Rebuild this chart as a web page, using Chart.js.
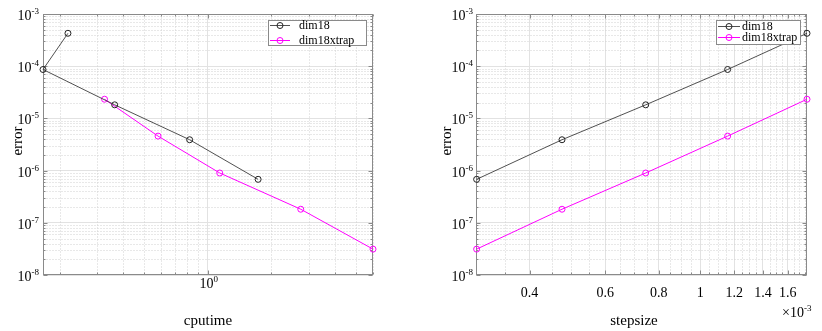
<!DOCTYPE html>
<html>
<head>
<meta charset="utf-8">
<script src="https://cdn.jsdelivr.net/npm/chart.js@4.4.0/dist/chart.umd.min.js"></script>
<style>
  html, body { margin: 0; padding: 0; background: #fff; }
  #wrap { position: relative; width: 822px; height: 331px; }
  .pane { position: absolute; top: 0; width: 411px; height: 331px; }
</style>
</head>
<body>
<div id="wrap">
  <div class="pane" style="left:0"><canvas id="cpuChart" width="411" height="331"></canvas></div>
  <div class="pane" style="left:411px"><canvas id="stepChart" width="411" height="331"></canvas></div>
</div>
<script>
// values
const cputimeDim18 = [0.219, 0.167, 0.364, 0.822, 1.73];
const cputimeXtrap = [0.326, 0.583, 1.14, 2.75, 6.03];
const stepsize = [1.773e-3, 1.158e-3, 0.746e-3, 0.476e-3, 0.301e-3];
const errorDim18 = [4.27e-4, 8.65e-5, 1.82e-5, 3.9e-6, 6.8e-7];
const errorXtrap = [2.33e-5, 4.58e-6, 9.0e-7, 1.82e-7, 3.13e-8];

const seriesNames = ['dim18', 'dim18xtrap'];
const errorTicks = [1e-8, 1e-7, 1e-6, 1e-5, 1e-4, 1e-3];
const errorTickExps = ['-8', '-7', '-6', '-5', '-4', '-3'];
const cputimeTicks = [1];
const cputimeTickExps = ['0'];
const stepsizeTicks = [0.4e-3, 0.6e-3, 0.8e-3, 1e-3, 1.2e-3, 1.4e-3, 1.6e-3];
const stepsizeTickLabels = ['0.4', '0.6', '0.8', '1', '1.2', '1.4', '1.6'];

const FONT = '"Liberation Serif", "Times New Roman", serif';
const DARK = 'rgba(50,50,50,0.85)';
const MAGENTA = '#ff00ff';

function decadeMinors(lo, hi) {
  const out = [];
  for (let e = Math.floor(Math.log10(lo)); e <= Math.ceil(Math.log10(hi)); e++) {
    for (let m = 2; m <= 9; m++) {
      const v = m * Math.pow(10, e);
      if (v > lo * 1.0001 && v < hi * 0.9999) out.push(v);
    }
  }
  return out;
}

function stepMinors(lo, hi) {
  const out = [];
  for (let k = 1; k < 40; k++) {
    if (k % 4 === 0) continue;
    const v = k * 5e-5;
    if (v > lo && v < hi) out.push(v);
  }
  return out;
}

function drawPow(ctx, exp, x, y, align) {
  ctx.font = '14px ' + FONT;
  const bw = ctx.measureText('10').width;
  ctx.font = '9px ' + FONT;
  const ew = ctx.measureText(exp).width;
  let x0 = x;
  if (align === 'right') x0 = x - bw - ew;
  if (align === 'center') x0 = x - (bw + ew) / 2;
  ctx.textAlign = 'left';
  ctx.textBaseline = 'alphabetic';
  ctx.font = '14px ' + FONT;
  ctx.fillText('10', x0, y);
  ctx.font = '9px ' + FONT;
  ctx.fillText(exp, x0 + bw, y - 6);
}

function decor(cfg) {
  return {
    id: 'decor',
    beforeDatasetsDraw(chart) {
      const { ctx, chartArea: a, scales: { x, y } } = chart;
      const L = Math.round(a.left) + 0.5, R = Math.round(a.right) - 0.5;
      const T = Math.round(a.top) + 0.5, B = Math.round(a.bottom) - 0.5;
      const yMinor = decadeMinors(1e-8, 1e-3);
      ctx.save();
      ctx.lineWidth = 1;
      ctx.strokeStyle = '#d0d0d0';
      ctx.setLineDash([1, 2]);
      cfg.xMinor.forEach((v) => {
        const p = Math.round(x.getPixelForValue(v)) + 0.5;
        ctx.beginPath(); ctx.moveTo(p, T); ctx.lineTo(p, B); ctx.stroke();
      });
      yMinor.forEach((v) => {
        const p = Math.round(y.getPixelForValue(v)) + 0.5;
        ctx.beginPath(); ctx.moveTo(L, p); ctx.lineTo(R, p); ctx.stroke();
      });
      ctx.setLineDash([]);
      ctx.strokeStyle = '#8a8a8a';
      const tick = (vals, len, horiz) => {
        vals.forEach((v) => {
          if (horiz) {
            const p = Math.round(x.getPixelForValue(v)) + 0.5;
            ctx.beginPath(); ctx.moveTo(p, B); ctx.lineTo(p, B - len);
            ctx.moveTo(p, T); ctx.lineTo(p, T + len); ctx.stroke();
          } else {
            const p = Math.round(y.getPixelForValue(v)) + 0.5;
            ctx.beginPath(); ctx.moveTo(L, p); ctx.lineTo(L + len, p);
            ctx.moveTo(R, p); ctx.lineTo(R - len, p); ctx.stroke();
          }
        });
      };
      tick(cfg.xMajor, 4, true);
      tick(cfg.xMinor, 2, true);
      tick(errorTicks, 4, false);
      tick(yMinor, 2, false);
      ctx.strokeRect(L, T, R - L, B - T);
      ctx.restore();
    },
    afterDraw(chart) {
      const { ctx, chartArea: a, scales: { x, y } } = chart;
      ctx.save();
      ctx.fillStyle = '#000';
      // y tick labels
      errorTicks.forEach((v, i) => {
        drawPow(ctx, errorTickExps[i], a.left - cfg.yLabelGap, y.getPixelForValue(v) + 6, 'right');
      });
      // x tick labels
      if (cfg.xPowLabels) {
        cfg.xMajor.forEach((v, i) => {
          drawPow(ctx, cfg.xPowLabels[i], x.getPixelForValue(v) + 1, a.bottom + 13, 'center');
        });
      } else {
        ctx.font = '14px ' + FONT;
        ctx.textAlign = 'center';
        ctx.textBaseline = 'alphabetic';
        cfg.xMajor.forEach((v, i) => {
          ctx.fillText(cfg.xLabels[i], x.getPixelForValue(v), a.bottom + 22);
        });
        // exponent multiplier
        ctx.textAlign = 'left';
        ctx.font = '14px ' + FONT;
        const sx = a.right - 25;
        const mw = ctx.measureText('\u00d710').width;
        ctx.fillText('\u00d710', sx, a.bottom + 42);
        ctx.font = '9px ' + FONT;
        ctx.fillText('-3', sx + mw, a.bottom + 36);
      }
      // axis titles
      ctx.font = '15px ' + FONT;
      ctx.textAlign = 'center';
      ctx.textBaseline = 'alphabetic';
      ctx.fillText(cfg.xTitle, cfg.xTitleX, 325);
      ctx.save();
      ctx.translate(cfg.yTitleX, 141);
      ctx.rotate(-Math.PI / 2);
      ctx.fillText('error', 0, 0);
      ctx.restore();
      // legend
      const lg = cfg.legend;
      ctx.fillStyle = '#fff';
      ctx.fillRect(lg.x, lg.y, lg.w, lg.h);
      ctx.strokeStyle = '#8a8a8a';
      ctx.lineWidth = 1;
      ctx.strokeRect(lg.x + 0.5, lg.y + 0.5, lg.w, lg.h);
      const colors = [DARK, MAGENTA];
      const marks = ['#222', MAGENTA];
      seriesNames.forEach((name, i) => {
        const ry = lg.rows[i];
        ctx.strokeStyle = colors[i];
        ctx.beginPath();
        ctx.moveTo(lg.x + lg.lineStart, ry + 0.5);
        ctx.lineTo(lg.x + lg.lineStart + lg.lineLen, ry + 0.5);
        ctx.stroke();
        ctx.strokeStyle = marks[i];
        ctx.beginPath();
        ctx.arc(lg.x + lg.lineStart + lg.lineLen / 2, ry + 0.5, 3, 0, Math.PI * 2);
        ctx.stroke();
        ctx.fillStyle = '#000';
        ctx.font = '12px ' + FONT;
        ctx.textAlign = 'left';
        ctx.fillText(name, lg.x + lg.textX, ry + 4);
      });
      ctx.restore();
    },
  };
}

function makeChart(id, cfg) {
  const ctx = document.getElementById(id).getContext('2d');
  const series = (xs, ys) => xs.map((v, i) => ({ x: v, y: ys[i] }));
  return new Chart(ctx, {
    type: 'line',
    data: {
      datasets: [
        {
          label: seriesNames[0],
          data: series(cfg.xDim18, errorDim18),
          borderColor: DARK,
          borderWidth: 1,
          pointRadius: 3,
          pointBorderWidth: 1,
          pointBorderColor: '#222',
          pointBackgroundColor: 'rgba(0,0,0,0)',
          tension: 0,
          clip: false,
        },
        {
          label: seriesNames[1],
          data: series(cfg.xXtrap, errorXtrap),
          borderColor: MAGENTA,
          borderWidth: 1,
          pointRadius: 3,
          pointBorderWidth: 1,
          pointBorderColor: MAGENTA,
          pointBackgroundColor: 'rgba(0,0,0,0)',
          tension: 0,
          clip: false,
        },
      ],
    },
    options: {
      responsive: false,
      animation: false,
      events: [],
      layout: { padding: { left: 0, top: 14, right: cfg.padRight, bottom: 0 } },
      plugins: { legend: { display: false }, tooltip: { enabled: false } },
      scales: {
        x: {
          type: 'logarithmic',
          min: cfg.xMin,
          max: cfg.xMax,
          ticks: { display: false },
          grid: { color: '#e2e2e2', drawTicks: false },
          border: { display: false },
          afterBuildTicks: (s) => { s.ticks = cfg.xMajor.map((v) => ({ value: v })); },
          afterFit: (s) => { s.height = 56; },
        },
        y: {
          type: 'logarithmic',
          min: 1e-8,
          max: 1e-3,
          ticks: { display: false },
          grid: { color: '#e2e2e2', drawTicks: false },
          border: { display: false },
          afterBuildTicks: (s) => { s.ticks = errorTicks.map((v) => ({ value: v })); },
          afterFit: (s) => { s.width = cfg.plotLeft; },
        },
      },
    },
    plugins: [decor(cfg)],
  });
}

makeChart('cpuChart', {
  xDim18: cputimeDim18,
  xXtrap: cputimeXtrap,
  xMin: Math.min(...cputimeDim18, ...cputimeXtrap),
  xMax: Math.max(...cputimeDim18, ...cputimeXtrap),
  xMajor: cputimeTicks,
  xMinor: decadeMinors(Math.min(...cputimeDim18), Math.max(...cputimeXtrap)),
  xPowLabels: cputimeTickExps,
  plotLeft: 43,
  padRight: 38,
  yLabelGap: 4,
  xTitle: 'cputime',
  xTitleX: 208,
  yTitleX: 22,
  legend: { x: 268, y: 20, w: 98, h: 25, rows: [25, 40], lineStart: 2, lineLen: 20, textX: 31 },
});

makeChart('stepChart', {
  xDim18: stepsize,
  xXtrap: stepsize,
  xMin: Math.min(...stepsize),
  xMax: Math.max(...stepsize),
  xMajor: stepsizeTicks,
  xMinor: stepMinors(Math.min(...stepsize), Math.max(...stepsize)),
  xLabels: stepsizeTickLabels,
  plotLeft: 65,
  padRight: 15,
  yLabelGap: 3,
  xTitle: 'stepsize',
  xTitleX: 223,
  yTitleX: 40,
  legend: { x: 305, y: 20, w: 84, h: 24, rows: [26, 37], lineStart: 2, lineLen: 22, textX: 26 },
});
</script>
</body>
</html>
